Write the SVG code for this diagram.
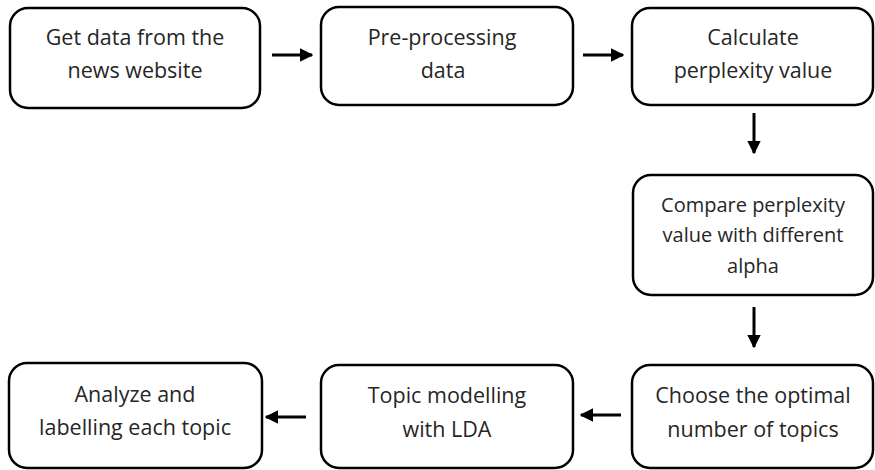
<svg xmlns="http://www.w3.org/2000/svg" width="875" height="470" viewBox="0 0 875 470">
<defs>
<style>
.box{fill:#fff;stroke:#000;stroke-width:2.5}
.t{font-family:"Open Sans","Liberation Sans",sans-serif;font-size:21.5px;fill:#262626;text-anchor:middle}
.s{font-size:20px}
.c{stroke:#000;stroke-width:3;fill:none;marker-end:url(#ah)}
</style>
<marker id="ah" viewBox="0 0 10 10" refX="9" refY="5" markerWidth="4.5" markerHeight="4.5" orient="auto" markerUnits="strokeWidth">
<path d="M0,0 L10,5 L0,10 z" fill="#000"/>
</marker>
</defs>
<g id="n1"><rect class="box" x="10" y="8" width="250" height="100" rx="18"/>
<text class="t" x="135" y="45">Get data from the</text><text class="t" x="135" y="78">news website</text></g>
<g id="n2"><rect class="box" x="321" y="7" width="252" height="98" rx="18"/>
<text class="t" x="442" y="45">Pre-processing</text><text class="t" x="443" y="78">data</text></g>
<g id="n3"><rect class="box" x="632" y="8" width="241" height="97" rx="18"/>
<text class="t" x="753" y="45">Calculate</text><text class="t" x="753" y="78">perplexity value</text></g>
<g id="n4"><rect class="box" x="633" y="175" width="240" height="120" rx="18"/>
<text class="t s" x="753" y="212">Compare perplexity</text><text class="t s" x="753" y="242">value with different</text><text class="t s" x="753" y="273">alpha</text></g>
<g id="n5"><rect class="box" x="632" y="365" width="241" height="103" rx="18"/>
<text class="t" x="753" y="403">Choose the optimal</text><text class="t" x="753" y="437">number of topics</text></g>
<g id="n6"><rect class="box" x="321" y="365" width="252" height="103" rx="18"/>
<text class="t" x="447" y="403">Topic modelling</text><text class="t" x="447" y="437">with LDA</text></g>
<g id="n7"><rect class="box" x="9" y="363" width="253" height="105" rx="18"/>
<text class="t" x="135" y="402">Analyze and</text><text class="t" x="135" y="435">labelling each topic</text></g>
<g id="connectors">
<line class="c" x1="272" y1="55" x2="312" y2="55"/>
<line class="c" x1="583" y1="55" x2="623" y2="55"/>
<line class="c" x1="754" y1="113" x2="754" y2="153"/>
<line class="c" x1="754" y1="307" x2="754" y2="347"/>
<line class="c" x1="621" y1="415" x2="581" y2="415"/>
<line class="c" x1="306" y1="417" x2="266" y2="417"/>
</g>
</svg>
